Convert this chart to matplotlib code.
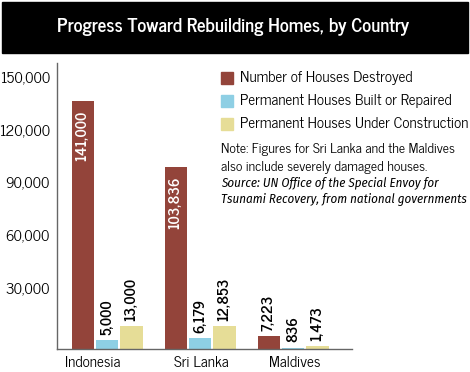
import numpy as np
import matplotlib.pyplot as plt
import matplotlib.transforms as mtransforms

countries = ["Indonesia", "Sri Lanka", "Maldives"]
destroyed = [141000, 103836, 7223]
built = [5000, 6179, 836]
under_construction = [13000, 12853, 1473]
series_names = ["Number of Houses Destroyed",
                "Permanent Houses Built or Repaired",
                "Permanent Houses Under Construction"]
yticks = [30000, 60000, 90000, 120000, 150000]

colors = ["#93443a", "#8ecfe4", "#e6dd97"]
plt.rcParams['font.family'] = ['News Cycle', 'DejaVu Sans']

W, H = 470, 372
fig = plt.figure(figsize=(W / 100, H / 100), dpi=100)

# black title band
fig.patches.append(plt.Rectangle((2 / W, 1 - 53 / H), 466 / W, 51 / H,
                                 transform=fig.transFigure, color="black"))
fig.text(233 / W, 1 - 27 / H, "Progress Toward Rebuilding Homes, by Country",
         color="white", fontsize=13.5, fontweight="bold",
         ha="center", va="center")

ax = fig.add_axes([57 / W, 23 / H, 295 / W, 286 / H])
x = np.arange(len(countries))
step = 0.263
width = 0.237
all_series = [destroyed, built, under_construction]
for i, (vals, col) in enumerate(zip(all_series, colors)):
    ax.bar(x + (i - 1) * step, vals, width=width, color=col, zorder=2)

ax.set_xlim(-0.538, 2.634)
ax.set_ylim(0, 162800)

# value labels
for i, vals in enumerate(all_series):
    for j, v in enumerate(vals):
        xp = j + (i - 1) * step
        txt = f"{v:,}"
        if v > 50000:
            ax.annotate(txt, (xp, v), xytext=(0, -7), textcoords="offset points",
                        rotation=90, ha="center", va="top", color="white",
                        fontsize=10.5, fontweight="bold")
        else:
            ax.annotate(txt, (xp, v), xytext=(0, 4), textcoords="offset points",
                        rotation=90, ha="center", va="bottom", color="black",
                        fontsize=10.5, fontweight="bold")

for s in ["top", "right"]:
    ax.spines[s].set_visible(False)
ax.spines["left"].set_color("#666666")
ax.spines["bottom"].set_color("#666666")
ax.spines["left"].set_linewidth(1)
ax.spines["bottom"].set_linewidth(1)

ax.set_yticks(yticks)
ax.set_yticklabels([f"{t:,}" for t in yticks], fontsize=10.8)
ax.tick_params(axis="y", length=0, pad=5)
lift = mtransforms.ScaledTranslation(0, 8 / 100, fig.dpi_scale_trans)
for lab in ax.get_yticklabels():
    lab.set_transform(lab.get_transform() + lift)

ax.set_xticks(x + np.array([-0.15, 0.01, 0.02]))
ax.set_xticklabels(countries, fontsize=11)
ax.tick_params(axis="x", length=0, pad=5)

# legend
for k, (name, col) in enumerate(zip(series_names, colors)):
    yc = 1 - (78 + 23 * k) / H
    fig.patches.append(plt.Rectangle((221 / W, yc - 6 / H), 12 / W, 12 / H,
                                     transform=fig.transFigure, color=col))
    fig.text(240 / W, yc, name, fontsize=10.9, va="center", ha="left")

fig.text(221 / W, 1 - 150 / H, "Note: Figures for Sri Lanka and the Maldives",
         fontsize=9.9, va="center")
fig.text(221 / W, 1 - 167 / H, "also include severely damaged houses.",
         fontsize=9.9, va="center")
src_font = ['Fira Sans Condensed', 'DejaVu Sans']
fig.text(221 / W, 1 - 183 / H, "Source: UN Office of the Special Envoy for",
         fontsize=9.3, style="italic", fontweight="normal", va="center",
         family=src_font)
fig.text(221 / W, 1 - 200 / H, "Tsunami Recovery, from national governments",
         fontsize=9.3, style="italic", fontweight="normal", va="center",
         family=src_font)

fig.savefig("out.png", dpi=100)
